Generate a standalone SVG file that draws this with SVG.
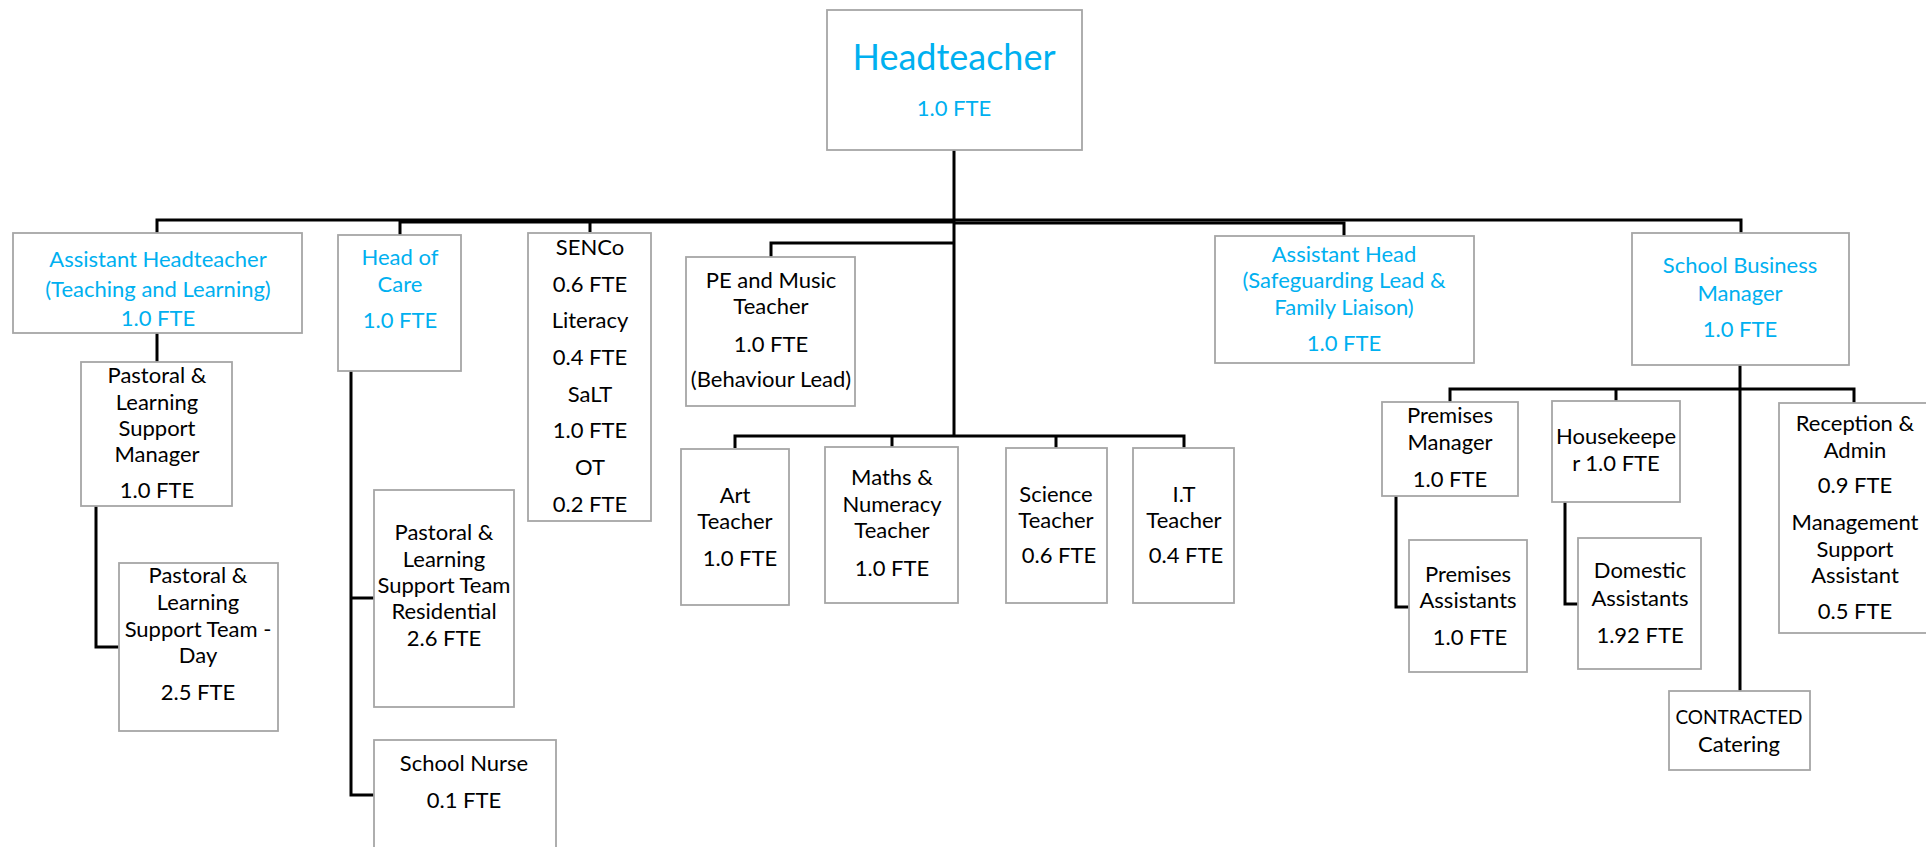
<svg xmlns="http://www.w3.org/2000/svg" width="1926" height="847" viewBox="0 0 1926 847">
<style>
.box{fill:#fff;stroke:#a6a6a6;stroke-width:1.8}
.c{fill:none;stroke:#000;stroke-width:3}
text{font-family:Lato,"Liberation Sans",sans-serif;font-size:22px;text-anchor:middle;fill:#000}
.b text{fill:#00b0f0}
</style>
<rect width="1926" height="847" fill="#fff"/>
<g id="connectors">
<path class="c" d="M954,150V435"/>
<path class="c" d="M157,233V220H1741V233"/>
<path class="c" d="M400,235V222H954"/>
<path class="c" d="M590,222V232"/>
<path class="c" d="M954,223H1344V236"/>
<path class="c" d="M954,243H771V257"/>
<path class="c" d="M735,448V436H1184V448"/>
<path class="c" d="M892,436V447"/>
<path class="c" d="M1056,436V448"/>
<path class="c" d="M157,333V362"/>
<path class="c" d="M96,506V647H119"/>
<path class="c" d="M351,371V795H374"/>
<path class="c" d="M351,598H374"/>
<path class="c" d="M1740,365V691"/>
<path class="c" d="M1450,402V389H1854V403"/>
<path class="c" d="M1616,389V401"/>
<path class="c" d="M1396,496V607H1409"/>
<path class="c" d="M1565,502V604H1578"/>
</g>
<g id="headteacher" class="b">
<rect class="box" x="827" y="10" width="255" height="140"/>
<text x="954" y="70" style="font-size:36px">Headteacher</text>
<text x="954" y="116">1.0 FTE</text>
</g>
<g id="aht" class="b">
<rect class="box" x="13" y="233" width="289" height="100"/>
<text x="158" y="267">Assistant Headteacher</text>
<text x="158" y="297">(Teaching and Learning)</text>
<text x="158" y="326">1.0 FTE</text>
</g>
<g id="hoc" class="b">
<rect class="box" x="338" y="235" width="123" height="136"/>
<text x="400" y="265">Head of</text>
<text x="400" y="292">Care</text>
<text x="400" y="328">1.0 FTE</text>
</g>
<g id="senco">
<rect class="box" x="528" y="233" width="123" height="288"/>
<text x="590" y="255">SENCo</text>
<text x="590" y="292">0.6 FTE</text>
<text x="590" y="328">Literacy</text>
<text x="590" y="365">0.4 FTE</text>
<text x="590" y="402">SaLT</text>
<text x="590" y="438">1.0 FTE</text>
<text x="590" y="475">OT</text>
<text x="590" y="512">0.2 FTE</text>
</g>
<g id="pe">
<rect class="box" x="686" y="257" width="169" height="149"/>
<text x="771" y="288">PE and Music</text>
<text x="771" y="314">Teacher</text>
<text x="771" y="352">1.0 FTE</text>
<text x="771" y="387">(Behaviour Lead)</text>
</g>
<g id="ahs" class="b">
<rect class="box" x="1215" y="236" width="259" height="127"/>
<text x="1344" y="262">Assistant Head</text>
<text x="1344" y="288">(Safeguarding Lead &amp;</text>
<text x="1344" y="315">Family Liaison)</text>
<text x="1344" y="351">1.0 FTE</text>
</g>
<g id="sbm" class="b">
<rect class="box" x="1632" y="233" width="217" height="132"/>
<text x="1740" y="273">School Business</text>
<text x="1740" y="301">Manager</text>
<text x="1740" y="337">1.0 FTE</text>
</g>
<g id="plsm">
<rect class="box" x="81" y="362" width="151" height="144"/>
<text x="157" y="383">Pastoral &amp;</text>
<text x="157" y="410">Learning</text>
<text x="157" y="436">Support</text>
<text x="157" y="462">Manager</text>
<text x="157" y="498">1.0 FTE</text>
</g>
<g id="plsd">
<rect class="box" x="119" y="563" width="159" height="168"/>
<text x="198" y="583">Pastoral &amp;</text>
<text x="198" y="610">Learning</text>
<text x="198" y="637">Support Team -</text>
<text x="198" y="663">Day</text>
<text x="198" y="700">2.5 FTE</text>
</g>
<g id="plsr">
<rect class="box" x="374" y="490" width="140" height="217"/>
<text x="444" y="540">Pastoral &amp;</text>
<text x="444" y="567">Learning</text>
<text x="444" y="593">Support Team</text>
<text x="444" y="619">Residential</text>
<text x="444" y="646">2.6 FTE</text>
</g>
<g id="nurse">
<rect class="box" x="374" y="740" width="182" height="120"/>
<text x="464" y="771">School Nurse</text>
<text x="464" y="808">0.1 FTE</text>
</g>
<g id="art">
<rect class="box" x="681" y="449" width="108" height="156"/>
<text x="735" y="503">Art</text>
<text x="735" y="529">Teacher</text>
<text x="740" y="566">1.0 FTE</text>
</g>
<g id="maths">
<rect class="box" x="825" y="447" width="133" height="156"/>
<text x="892" y="485">Maths &amp;</text>
<text x="892" y="512">Numeracy</text>
<text x="892" y="538">Teacher</text>
<text x="892" y="576">1.0 FTE</text>
</g>
<g id="science">
<rect class="box" x="1006" y="448" width="101" height="155"/>
<text x="1056" y="502">Science</text>
<text x="1056" y="528">Teacher</text>
<text x="1059" y="563">0.6 FTE</text>
</g>
<g id="it">
<rect class="box" x="1133" y="448" width="101" height="155"/>
<text x="1184" y="502">I.T</text>
<text x="1184" y="528">Teacher</text>
<text x="1186" y="563">0.4 FTE</text>
</g>
<g id="premises-manager">
<rect class="box" x="1382" y="402" width="136" height="94"/>
<text x="1450" y="423">Premises</text>
<text x="1450" y="450">Manager</text>
<text x="1450" y="487">1.0 FTE</text>
</g>
<g id="housekeeper">
<rect class="box" x="1552" y="401" width="128" height="101"/>
<text x="1616" y="444">Housekeepe</text>
<text x="1616" y="471">r 1.0 FTE</text>
</g>
<g id="reception">
<rect class="box" x="1779" y="403" width="160" height="230"/>
<text x="1855" y="431">Reception &amp;</text>
<text x="1855" y="458">Admin</text>
<text x="1855" y="493">0.9 FTE</text>
<text x="1855" y="530">Management</text>
<text x="1855" y="557">Support</text>
<text x="1855" y="583">Assistant</text>
<text x="1855" y="619">0.5 FTE</text>
</g>
<g id="premises-assistants">
<rect class="box" x="1409" y="540" width="118" height="132"/>
<text x="1468" y="582">Premises</text>
<text x="1468" y="608">Assistants</text>
<text x="1470" y="645">1.0 FTE</text>
</g>
<g id="domestic-assistants">
<rect class="box" x="1578" y="538" width="123" height="131"/>
<text x="1640" y="578">Domestic</text>
<text x="1640" y="606">Assistants</text>
<text x="1640" y="643">1.92 FTE</text>
</g>
<g id="catering">
<rect class="box" x="1669" y="691" width="141" height="79"/>
<text x="1739" y="724" style="font-size:19px">CONTRACTED</text>
<text x="1739" y="752">Catering</text>
</g>
</svg>
